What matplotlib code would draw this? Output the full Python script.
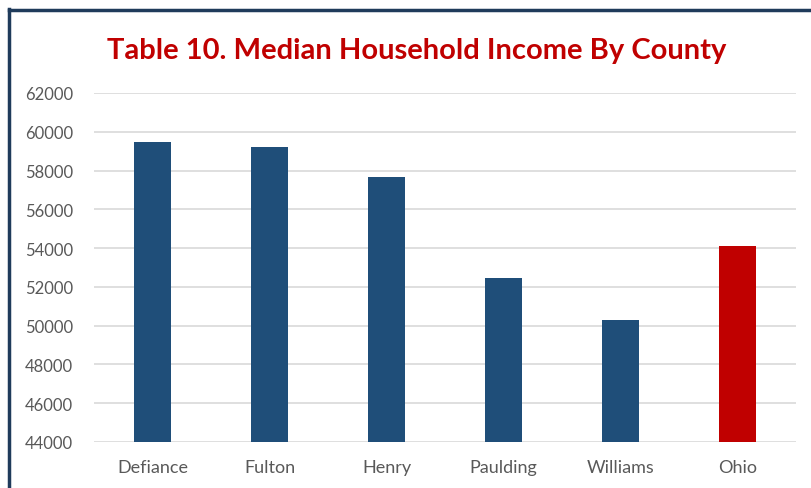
import matplotlib.pyplot as plt
from matplotlib.lines import Line2D

counties = ['Defiance', 'Fulton', 'Henry', 'Paulding', 'Williams', 'Ohio']
income = [59470, 59220, 57670, 52460, 50300, 54110]
colors = ['#1F4E79'] * 5 + ['#C00000']
yticks = list(range(44000, 62001, 2000))

plt.rcParams['font.family'] = ['Lato', 'DejaVu Sans']

fig = plt.figure(figsize=(8.12, 4.89), dpi=100)
ax = fig.add_axes([0.1158, 0.0941, 0.8645, 0.7137])

x = range(len(counties))
ax.bar(x, income, width=0.31, color=colors, zorder=3)

ax.set_ylim(44000, 62000)
ax.set_xlim(-0.5, len(counties) - 0.5)
ax.set_yticks(yticks)
ax.set_yticklabels([str(v) for v in yticks])
ax.set_xticks(list(x))
ax.set_xticklabels(counties)
ax.tick_params(axis='both', length=0, labelcolor='#595959')
ax.tick_params(axis='y', pad=15, labelsize=12)
ax.tick_params(axis='x', pad=12, labelsize=13)
ax.grid(axis='y', color='#D9D9D9', linewidth=1.2, zorder=0)
for s in ax.spines.values():
    s.set_visible(False)

fig.text(0.513, 0.895, 'Table 10. Median Household Income By County',
         ha='center', va='center', fontsize=21, fontweight='bold', color='#C00000')

# outer frame (left and top edges only visible)
fig.add_artist(Line2D([9.5 / 812, 9.5 / 812], [0, 1 - 9.5 / 489],
                      transform=fig.transFigure, color='#1F3B5B', linewidth=2.5))
fig.add_artist(Line2D([9.5 / 812, 1], [1 - 10.5 / 489, 1 - 10.5 / 489],
                      transform=fig.transFigure, color='#1F3B5B', linewidth=2.5))

fig.savefig('out.png', dpi=100)
